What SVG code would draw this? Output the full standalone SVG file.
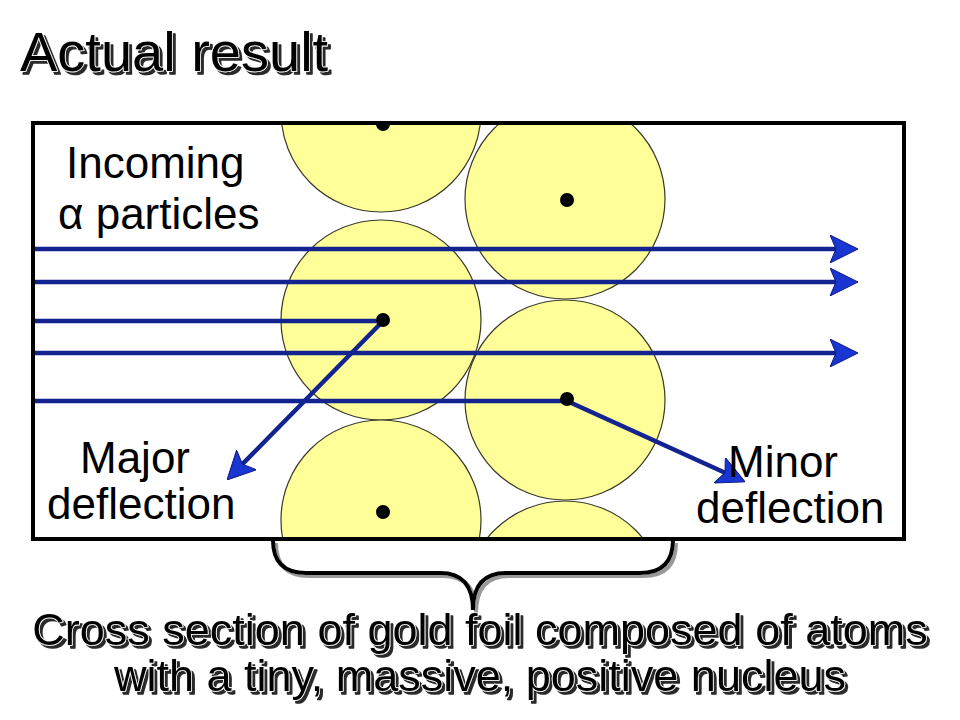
<svg xmlns="http://www.w3.org/2000/svg" width="960" height="720" viewBox="0 0 960 720">
<style>
.lbl{font-family:"Liberation Sans",Arial,sans-serif;font-size:44px;fill:#000}
.big{font-family:"Liberation Sans",Arial,sans-serif;fill:#000;stroke:#fff;stroke-width:1.6;paint-order:stroke;stroke-linejoin:round;filter:url(#shadow)}
.atom{fill:#ffff99;stroke:#3a3a2a;stroke-width:1.2}
.nuc{fill:#000}
.ray{fill:none;stroke:#13238f;stroke-width:4.5}
</style>
<defs>
<filter id="shadow" x="-5%" y="-20%" width="110%" height="150%">
<feOffset in="SourceAlpha" dx="3" dy="3" result="o"/>
<feFlood flood-color="#2a2a2a"/>
<feComposite in2="o" operator="in" result="s"/>
<feMerge><feMergeNode in="s"/><feMergeNode in="SourceGraphic"/></feMerge>
</filter>
<filter id="bshadow" x="-5%" y="-20%" width="110%" height="150%">
<feOffset in="SourceAlpha" dx="3" dy="3" result="o"/>
<feFlood flood-color="#999"/>
<feComposite in2="o" operator="in" result="s"/>
<feMerge><feMergeNode in="s"/><feMergeNode in="SourceGraphic"/></feMerge>
</filter>
<clipPath id="boxclip"><rect x="35" y="125" width="867" height="412"/></clipPath>
<marker id="ah" markerUnits="userSpaceOnUse" viewBox="0 0 28 28" refX="6" refY="14" markerWidth="28" markerHeight="28" orient="auto">
<path d="M0,0 L28,14 L0,28 L6,14 z" fill="#1a36d2" stroke="#0c1a80" stroke-width="1"/>
</marker>
</defs>
<rect width="960" height="720" fill="#fff"/>
<g id="title">
<text class="big" x="20" y="71" font-size="56">Actual result</text>
</g>
<g id="foil" clip-path="url(#boxclip)">
<g id="atom1"><circle class="atom" cx="381" cy="112" r="100"/><circle class="nuc" cx="383" cy="124" r="7"/></g>
<g id="atom2"><circle class="atom" cx="381" cy="320" r="100"/></g>
<g id="atom3"><circle class="atom" cx="381" cy="520" r="100"/><circle class="nuc" cx="383" cy="512" r="7"/></g>
<g id="atom4"><circle class="atom" cx="565" cy="199" r="100"/><circle class="nuc" cx="567" cy="200" r="7"/></g>
<g id="atom5"><circle class="atom" cx="565" cy="400" r="100"/></g>
<g id="atom6"><circle class="atom" cx="565" cy="601" r="100"/></g>
</g>
<g id="frame"><rect x="33" y="123" width="871" height="416" fill="none" stroke="#000" stroke-width="4"/></g>
<g id="connectors">
<line class="ray" x1="35" y1="249" x2="836" y2="249" marker-end="url(#ah)"/>
<line class="ray" x1="35" y1="282" x2="836" y2="282" marker-end="url(#ah)"/>
<line class="ray" x1="35" y1="353" x2="836" y2="353" marker-end="url(#ah)"/>
<polyline class="ray" points="35,321 383,321 242.4,464.2" marker-end="url(#ah)"/>
<polyline class="ray" points="35,401 567,401 725,472.8" marker-end="url(#ah)"/>
</g>
<g id="nuclei">
<circle class="nuc" cx="383" cy="320" r="7"/>
<circle class="nuc" cx="567" cy="399" r="7"/>
</g>
<g id="label-incoming">
<text class="lbl" x="66" y="178">Incoming</text>
<text class="lbl" x="58" y="229">α particles</text>
</g>
<g id="label-major">
<text class="lbl" x="80" y="473">Major</text>
<text class="lbl" x="47" y="519">deflection</text>
</g>
<g id="label-minor">
<text class="lbl" x="728" y="477">Minor</text>
<text class="lbl" x="696" y="523">deflection</text>
</g>
<g id="brace" filter="url(#bshadow)">
<path d="M273,540 Q273,573 306,573 L440,573 Q473,573 473,610 Q473,573 506,573 L640,573 Q673,573 673,540" fill="none" stroke="#000" stroke-width="4"/>
</g>
<g id="caption">
<text class="big" x="480" y="645" font-size="45" text-anchor="middle">Cross section of gold foil composed of atoms</text>
<text class="big" x="480" y="691" font-size="45" text-anchor="middle">with a tiny, massive, positive nucleus</text>
</g>
</svg>
